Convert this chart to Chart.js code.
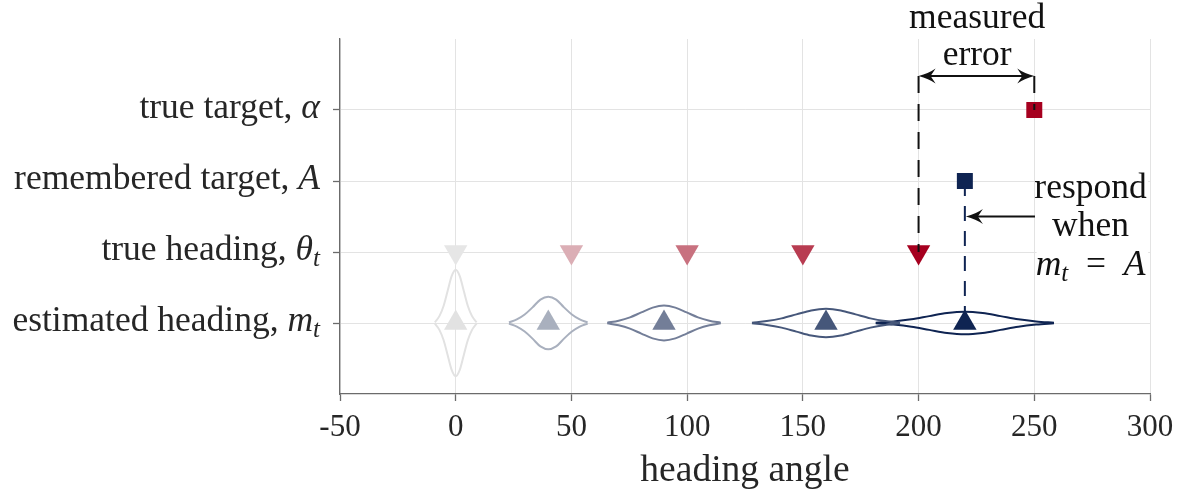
<!DOCTYPE html>
<html>
<head>
<meta charset="utf-8">
<script src="https://cdn.jsdelivr.net/npm/chart.js@4.4.1/dist/chart.umd.min.js"></script>
<style>
  html, body { margin: 0; padding: 0; background: #fff; }
  #wrap { width: 1185px; height: 490px; }
</style>
</head>
<body>
<div id="wrap"><canvas id="c" width="1185" height="490"></canvas></div>
<script>
// ---- rows of the y axis (1 = bottom row) ----
const rowValues = [1, 2, 3, 4];
const rowNames = ['estimated heading, ', 'true heading, ', 'remembered target, ', 'true target, '];
const rowSymbols = ['m', 'θ', 'A', 'α'];
const rowSubscripts = ['t', 't', '', ''];

// ---- x axis ----
const xTicks = [-50, 0, 50, 100, 150, 200, 250, 300];

// ---- targets ----
const trueTargetX = [250];
const rememberedTargetX = [220];

// ---- true heading over time ----
const trueHeadingX = [0, 50, 100, 150, 200];
const trueHeadingColors = ['#e6e6e6', '#dbaeb5', '#c8717f', '#b83c51', '#a6001f'];

// ---- estimated heading over time ----
const estHeadingX = [0, 40, 90, 160, 220];
const estHeadingColors = ['#e2e2e2', '#a9b0be', '#737e98', '#46577a', '#0f2452'];

// ---- belief spread around each estimate (x position, half height) ----
const spread0X = [-9, -7, -5.25, -3.5, -1.75, 0, 1.75, 3.5, 5.25, 7, 9];
const spread0H = [0.01, 0.1, 0.24, 0.45, 0.66, 0.75, 0.66, 0.45, 0.24, 0.1, 0.01];
const spread1X = [23, 26.4, 29.8, 33.2, 36.6, 40, 43.4, 46.8, 50.2, 53.6, 57];
const spread1H = [0.008, 0.05, 0.12, 0.22, 0.33, 0.37, 0.33, 0.22, 0.12, 0.05, 0.008];
const spread2X = [65.5, 70.4, 75.3, 80.2, 85.1, 90, 94.9, 99.8, 104.7, 109.6, 114.5];
const spread2H = [0.005, 0.033, 0.08, 0.149, 0.216, 0.245, 0.216, 0.149, 0.08, 0.033, 0.005];
const spread3X = [128, 134.4, 140.8, 147.2, 153.6, 160, 166.4, 172.8, 179.2, 185.6, 192];
const spread3H = [0.004, 0.027, 0.065, 0.121, 0.177, 0.2, 0.177, 0.121, 0.065, 0.027, 0.004];
const spread4X = [181.5, 189.2, 196.9, 204.6, 212.3, 220, 227.7, 235.4, 243.1, 250.8, 258.5];
const spread4H = [0.003, 0.022, 0.052, 0.097, 0.141, 0.16, 0.141, 0.097, 0.052, 0.022, 0.003];

const spreadX = [spread0X, spread1X, spread2X, spread3X, spread4X];
const spreadH = [spread0H, spread1H, spread2H, spread3H, spread4H];

// ---- guides ----
const errorLevel = 4.48;   // height of the "measured error" bracket
const respondLevel = 2.5;  // height of the "respond" arrow

const TEXT = '#262626';
const SERIF = "'Liberation Serif', 'Times New Roman', serif";
const LABEL_SIZE = 35.5;

// datasets
const datasets = [];

// dashed guide lines (drawn on top)
datasets.push({
  data: [{x: trueHeadingX[4], y: errorLevel}, {x: trueHeadingX[4], y: rowValues[1]}],
  showLine: true, borderColor: '#111', borderWidth: 2, borderDash: [17, 11],
  pointRadius: 0, order: 0
});
datasets.push({
  data: [{x: trueTargetX[0], y: errorLevel}, {x: trueTargetX[0], y: rowValues[3]}],
  showLine: true, borderColor: '#111', borderWidth: 2, borderDash: [17, 11],
  pointRadius: 0, order: 0
});
datasets.push({
  data: [{x: rememberedTargetX[0], y: rowValues[2]}, {x: rememberedTargetX[0], y: rowValues[0]}],
  showLine: true, borderColor: '#0f2452', borderWidth: 2, borderDash: [15, 10],
  pointRadius: 0, order: 3
});

// markers
datasets.push({
  data: trueTargetX.map(v => ({x: v, y: rowValues[3]})),
  pointStyle: 'rect', pointRadius: 11.3, pointBackgroundColor: '#a6001f',
  pointBorderWidth: 0, order: 1
});
datasets.push({
  data: rememberedTargetX.map(v => ({x: v, y: rowValues[2]})),
  pointStyle: 'rect', pointRadius: 11.3, pointBackgroundColor: '#0f2452',
  pointBorderWidth: 0, order: 1
});
datasets.push({
  data: trueHeadingX.map(v => ({x: v, y: rowValues[1]})),
  pointStyle: 'triangle', rotation: 180, pointRadius: 13.5,
  pointBackgroundColor: trueHeadingColors, pointBorderWidth: 0, order: 1
});
datasets.push({
  data: estHeadingX.map(v => ({x: v, y: rowValues[0]})),
  pointStyle: 'triangle', pointRadius: 13.5,
  pointBackgroundColor: estHeadingColors, pointBorderWidth: 0, order: 1
});

// spread outlines: upper and lower edge around the estimated-heading row
spreadX.forEach((xs, i) => {
  const hs = spreadH[i];
  [1, -1].forEach(sign => {
    datasets.push({
      data: xs.map((v, k) => ({x: v, y: rowValues[0] + sign * hs[k]})),
      showLine: true, borderColor: estHeadingColors[i], borderWidth: 2,
      cubicInterpolationMode: 'monotone', pointRadius: 0, order: 2
    });
  });
});

// text helpers
function fontFor(p, size) {
  const s = p.sub ? Math.round(size * 0.7) : size;
  return (p.it ? 'italic ' : '') + s + 'px ' + SERIF;
}
function drawRich(ctx, parts, x, y, align, size) {
  const widths = parts.map(p => { ctx.font = fontFor(p, size); return ctx.measureText(p.t).width; });
  const total = widths.reduce((a, b) => a + b, 0);
  let cx = align === 'right' ? x - total : align === 'center' ? x - total / 2 : x;
  ctx.textAlign = 'left';
  ctx.textBaseline = 'alphabetic';
  parts.forEach((p, i) => {
    ctx.font = fontFor(p, size);
    ctx.fillText(p.t, cx, y + (p.sub ? size * 0.17 : 0));
    cx += widths[i];
  });
}

function arrowHead(ctx, tx, ty, dx, dy) {
  const L = 17, W = 7.5, N = 5;
  const px = -dy, py = dx;
  const bx = tx - dx * L, by = ty - dy * L;
  ctx.beginPath();
  ctx.moveTo(tx, ty);
  ctx.quadraticCurveTo(tx - dx * L * 0.6 + px * W * 0.35, ty - dy * L * 0.6 + py * W * 0.35, bx + px * W, by + py * W);
  ctx.lineTo(tx - dx * (L - N), ty - dy * (L - N));
  ctx.lineTo(bx - px * W, by - py * W);
  ctx.quadraticCurveTo(tx - dx * L * 0.6 - px * W * 0.35, ty - dy * L * 0.6 - py * W * 0.35, tx, ty);
  ctx.closePath();
  ctx.fill();
}

const notes = {
  id: 'notes',
  beforeDatasetsDraw(chart) {
    const {ctx, scales: {x, y}} = chart;
    // white panel behind the "respond when" note
    ctx.save();
    ctx.fillStyle = '#fff';
    const l = x.getPixelForValue(251), r = x.getPixelForValue(299.2);
    const t = y.getPixelForValue(3.17), b = y.getPixelForValue(1.45);
    ctx.fillRect(l, t, r - l, b - t);
    ctx.restore();
  },
  afterDatasetsDraw(chart) {
    const {ctx, scales: {x, y}} = chart;
    ctx.save();
    ctx.strokeStyle = '#111';
    ctx.fillStyle = '#111';
    ctx.lineWidth = 2;
    // measured error bracket (double headed)
    const ey = y.getPixelForValue(errorLevel);
    const ex1 = x.getPixelForValue(trueHeadingX[4]), ex2 = x.getPixelForValue(trueTargetX[0]);
    ctx.beginPath();
    ctx.moveTo(ex1 + 10, ey); ctx.lineTo(ex2 - 10, ey); ctx.stroke();
    arrowHead(ctx, ex1, ey, -1, 0);
    arrowHead(ctx, ex2, ey, 1, 0);
    // respond arrow
    const ry = y.getPixelForValue(respondLevel);
    const rx1 = x.getPixelForValue(250.3), rx2 = x.getPixelForValue(rememberedTargetX[0]);
    ctx.beginPath();
    ctx.moveTo(rx1, ry); ctx.lineTo(rx2 + 10, ry); ctx.stroke();
    arrowHead(ctx, rx2 + 1, ry, -1, 0);
    ctx.restore();
  },
  afterDraw(chart) {
    const {ctx, scales: {x, y}} = chart;
    ctx.save();
    ctx.fillStyle = TEXT;
    // y row labels
    rowValues.forEach((v, i) => {
      const parts = [{t: rowNames[i]}, {t: rowSymbols[i], it: true}];
      if (rowSubscripts[i]) parts.push({t: rowSubscripts[i], it: true, sub: true});
      drawRich(ctx, parts, 320, y.getPixelForValue(v) + 8, 'right', LABEL_SIZE);
    });
    // annotations
    ctx.fillStyle = '#111';
    const cx1 = x.getPixelForValue(225.3);
    drawRich(ctx, [{t: 'measured'}], cx1, 28, 'center', LABEL_SIZE);
    drawRich(ctx, [{t: 'error'}], cx1, 65, 'center', LABEL_SIZE);
    const cx2 = x.getPixelForValue(274.3);
    drawRich(ctx, [{t: 'respond'}], cx2, 198, 'center', LABEL_SIZE);
    drawRich(ctx, [{t: 'when'}], cx2, 236, 'center', LABEL_SIZE);
    drawRich(ctx, [{t: 'm', it: true}, {t: 't', it: true, sub: true}, {t: '\u2002=\u2002'}, {t: 'A', it: true}], cx2, 275, 'center', LABEL_SIZE);
    ctx.restore();
  }
};

new Chart(document.getElementById('c'), {
  type: 'scatter',
  data: {datasets},
  options: {
    responsive: false,
    animation: false,
    devicePixelRatio: 1,
    layout: {padding: {top: 39, right: 35, left: 0, bottom: 0}},
    plugins: {legend: {display: false}, tooltip: {enabled: false}},
    scales: {
      x: {
        type: 'linear', min: -50, max: 300,
        afterBuildTicks: s => { s.ticks = xTicks.map(v => ({value: v})); },
        afterFit: s => { s.height = 96; },
        grid: {color: '#e3e3e3', lineWidth: 1, tickColor: '#6b6b6b', tickLength: 7, tickWidth: 1.3},
        border: {color: '#6b6b6b', width: 1.3},
        ticks: {
          color: TEXT, padding: 8,
          font: {family: SERIF, size: 31, lineHeight: 1.2},
          callback: v => String(v), maxRotation: 0
        },
        title: {
          display: true, text: 'heading angle', color: TEXT,
          font: {family: SERIF, size: 37.5, lineHeight: 1.0}, padding: 0
        }
      },
      y: {
        type: 'linear', min: 0, max: 5,
        afterBuildTicks: s => { s.ticks = rowValues.map(v => ({value: v})); },
        afterFit: s => { s.width = 340; },
        grid: {color: '#e3e3e3', lineWidth: 1, tickColor: '#6b6b6b', tickLength: 7, tickWidth: 1.3},
        border: {color: '#6b6b6b', width: 1.3},
        ticks: {display: false}
      }
    }
  },
  plugins: [notes]
});
</script>
</body>
</html>
